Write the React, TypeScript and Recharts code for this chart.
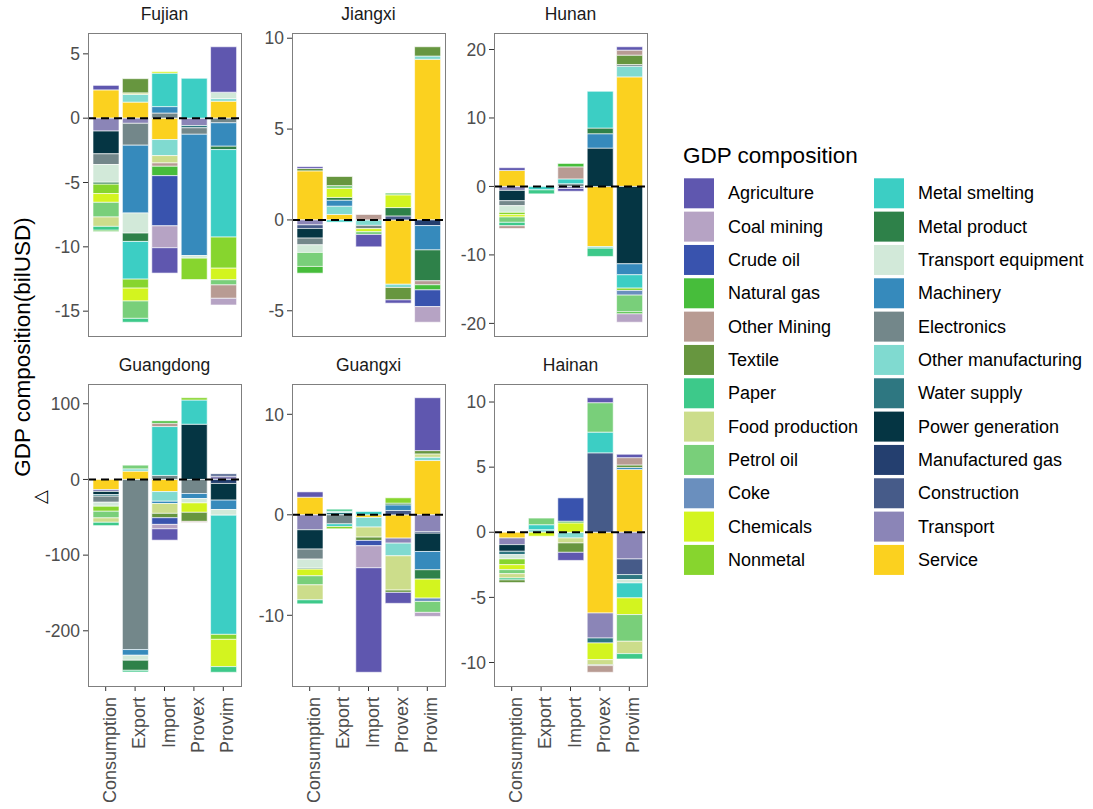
import React from "react";
import { BarChart, Bar, XAxis, YAxis, ReferenceLine } from "recharts";

const categories = ["Consumption", "Export", "Import", "Provex", "Provim"];

const sectors = [
  "Agriculture", "Coal mining", "Crude oil", "Natural gas", "Other Mining", "Textile",
  "Paper", "Food production", "Petrol oil", "Coke", "Chemicals", "Nonmetal",
  "Metal smelting", "Metal product", "Transport equipment", "Machinery", "Electronics",
  "Other manufacturing", "Water supply", "Power generation", "Manufactured gas",
  "Construction", "Transport", "Service",
];

const sectorColors = [
  "#5F57AF", "#B6A3C4", "#3953AE", "#47BD3B", "#B89B93", "#67963F",
  "#3DC98A", "#CCDD8B", "#79CF7A", "#6A8FBE", "#D3F41F", "#87D52E",
  "#3CCEC4", "#2E8149", "#D2E9D9", "#368ABC", "#73878A",
  "#80DAD0", "#2E7781", "#053543", "#243F6F",
  "#465B89", "#8B85B7", "#FBD11F",
];

// values per sector: [Consumption, Export, Import, Provex, Provim], bilUSD
const fujian: Record<string, number[]> = {
  Agriculture: [0.35, 0, -1.97, 0, 3.53],
  "Coal mining": [0, 0, -1.7, 0, -0.52],
  "Crude oil": [0, 0, -3.9, 0, 0],
  "Natural gas": [-0.1, 0, -0.73, 0, 0],
  "Other Mining": [0, 0, -0.26, 0, -1.04],
  Textile: [0, 1.1, 0, 0, 0],
  Paper: [-0.3, -0.3, 0, 0, 0],
  "Food production": [-0.73, 0.12, -0.57, 0, 0],
  "Petrol oil": [-1.14, -1.35, 0, 0, -0.4],
  Chemicals: [-0.68, -1.0, 0.12, 0, -0.9],
  Nonmetal: [-0.73, -0.7, 0, -1.66, -2.42],
  "Metal smelting": [0, -2.93, 2.6, 3.1, -6.8],
  "Metal product": [-0.15, -0.65, 0, 0, -0.26],
  "Transport equipment": [-1.38, -1.56, 0, -0.2, 0.5],
  Machinery: [0, -5.27, 0.5, -9.43, -1.82],
  Electronics: [-0.83, -1.7, 0.4, -0.5, -0.36],
  "Other manufacturing": [0, 0.6, -1.25, 0, 0.2],
  "Water supply": [0, 0, 0, -0.18, 0],
  "Power generation": [-1.77, 0, 0, 0, 0],
  Transport: [-1.0, -0.4, 0, -0.57, 0],
  Service: [2.2, 1.25, -1.66, 0, 1.32],
};

const jiangxi: Record<string, number[]> = {
  Agriculture: [0.1, 0, -0.68, -0.18, 0],
  "Coal mining": [0, 0, 0, 0, -0.86],
  "Crude oil": [0, 0, 0, 0, -0.92],
  "Natural gas": [-0.37, 0, 0, 0, -0.28],
  "Other Mining": [0, 0, 0.3, 0, -0.22],
  Textile: [0.13, 0.5, 0, -0.68, 0.51],
  "Petrol oil": [-0.77, 0.15, -0.15, 0.1, 0],
  Chemicals: [0, 0.5, -0.17, 0.7, 0],
  "Metal smelting": [0, -0.12, 0, 0, 0],
  "Metal product": [0, 0.15, 0, 0.46, -1.7],
  "Transport equipment": [-0.42, 0, 0, 0, 0],
  Machinery: [0, 0.33, 0, 0, -1.34],
  Electronics: [-0.37, 0, -0.18, 0, 0],
  "Other manufacturing": [0, 0.46, -0.3, -0.18, 0.18],
  "Power generation": [-0.53, 0, 0, 0, 0],
  "Manufactured gas": [0, 0, 0, 0, -0.31],
  Construction: [-0.2, 0, 0, 0.22, 0],
  Transport: [-0.27, 0, 0, 0, 0],
  Service: [2.7, 0.3, 0, -3.54, 8.84],
};

const hunan: Record<string, number[]> = {
  Agriculture: [0.4, 0, -0.4, 0, 0.49],
  "Coal mining": [0, 0, 0, 0, -1.22],
  "Natural gas": [0, 0, 0.5, 0, -0.3],
  "Other Mining": [-0.4, 0, 1.76, 0, 0.73],
  Textile: [0, 0, 0, 0, 1.37],
  Paper: [-0.5, -0.58, 0, -1.2, 0],
  "Petrol oil": [-0.78, 0, 0, 0, -2.44],
  Coke: [0, 0, 0, 0, -0.68],
  Chemicals: [-0.34, 0, 0, 0, 0],
  Nonmetal: [-0.34, 0, 0, 0, -0.34],
  "Metal smelting": [0, -0.5, 0.7, 5.37, -1.95],
  "Metal product": [0, 0, 0, 0.83, 0],
  "Transport equipment": [-0.97, 0, 0, 0, 0],
  Machinery: [0, 0, 0, 2.1, -1.6],
  Electronics: [-0.73, 0, 0.4, 0, 0.25],
  "Other manufacturing": [0, 0, 0, -0.24, 1.56],
  "Power generation": [-1.5, 0, 0, 5.6, -11.3],
  Transport: [-0.58, 0, -0.3, 0, 0],
  Service: [2.34, 0, 0, -8.78, 16.0],
};

const guangdong: Record<string, number[]> = {
  Agriculture: [0, 0, -15, 0, 0],
  "Coal mining": [0, 0, -5.8, 0, 0],
  "Crude oil": [0, 0, -8.8, 0, 0],
  "Natural gas": [0, 0, 3.1, 0, 0],
  "Other Mining": [0, 0, 4.4, -1.3, 0],
  Textile: [0, 0, -5.8, -12, 0],
  Paper: [-4.4, -2.2, 0, 0, -7.5],
  "Food production": [-5.8, 0, -13, 0, 0],
  "Petrol oil": [-8.8, 4.9, 0, 0, 0],
  Chemicals: [0, 0, 0, -12.4, -36],
  Nonmetal: [-6.6, 0, 0, 3, -6.6],
  "Metal smelting": [0, 0, 64.6, 32, -157.5],
  "Metal product": [0, -13.3, 0, 0, 0],
  "Transport equipment": [-5.3, -6.6, 0, -5.8, -7.5],
  Machinery: [0, -7.5, -3, -6.6, -12.4],
  Electronics: [-8, -224.8, 5.3, -18.6, 0],
  "Other manufacturing": [0, 3, -12.8, 0, 0],
  "Water supply": [-2.2, 0, 0, 0, 0],
  "Power generation": [-4, 0, 0, 73, -22],
  "Manufactured gas": [0, 0, 0, 0, -5.3],
  Construction: [0, 0, 0, 0, 3],
  Transport: [-2.6, 0, 0, 0, 4.4],
  Service: [-13.3, 11, -16, 0, 0],
};

const guangxi: Record<string, number[]> = {
  Agriculture: [0.53, 0, -10.4, -1.09, 5.26],
  "Coal mining": [0, 0, -2.19, 0, -0.4],
  "Crude oil": [0, 0, -0.53, 0, 0],
  Textile: [0, 0, -0.33, -0.23, 0.33],
  Paper: [-0.4, 0.2, 0, 0, 0],
  "Food production": [-1.49, 0, -1.0, -3.41, 0.33],
  "Petrol oil": [-0.9, 0, 0, 0, -1.09],
  Coke: [0, 0, 0, 0, -0.33],
  Chemicals: [-0.66, 0, 0, 0, -1.89],
  Nonmetal: [0, -0.23, 0, 0.53, 0],
  "Metal smelting": [0, -0.26, 0.33, 0, 0],
  "Metal product": [-0.1, 0, 0, 0.17, -0.93],
  "Transport equipment": [-0.9, 0, 0, 0, 0],
  Machinery: [0, 0, 0, 0.56, -1.82],
  Electronics: [-1.0, -0.9, 0, 0, 0],
  "Other manufacturing": [0, 0.13, -0.96, -1.26, 0.33],
  "Water supply": [0, 0.23, 0, 0, 0],
  "Power generation": [-1.92, 0, 0, 0, -1.82],
  Construction: [0, 0, 0, 0.43, -0.17],
  Transport: [-1.49, 0, 0, -0.5, -1.66],
  Service: [1.75, 0, -0.26, -2.32, 5.4],
};

const hainan: Record<string, number[]> = {
  Agriculture: [0, 0, -0.62, 0.38, 0.26],
  "Crude oil": [0, 0, 1.79, 0, 0],
  "Natural gas": [0, 0, 0.13, 0, 0],
  "Other Mining": [0, 0, 0, -0.51, 0.56],
  Textile: [-0.2, 0, -0.72, -0.08, 0.2],
  Paper: [-0.15, 0, 0, 0, -0.41],
  "Food production": [-0.33, 0, -0.38, -0.38, -0.95],
  "Petrol oil": [-0.31, 0.51, 0, 2.26, -2.05],
  Chemicals: [-0.38, -0.3, 0.72, -1.28, -1.28],
  Nonmetal: [-0.44, 0, 0, 0, 0],
  "Metal smelting": [0, 0.38, 0, 1.59, -1.15],
  "Transport equipment": [-0.33, 0, 0, 0, -0.26],
  Machinery: [0, 0, 0, 0, 0.15],
  "Other manufacturing": [0, 0.2, -0.44, 0, 0],
  "Water supply": [-0.26, 0, 0, -0.38, -0.38],
  "Power generation": [-0.51, 0, 0, 0, 0],
  Construction: [0, 0, 0, 6.1, -1.2],
  Transport: [-0.51, 0, 0, -1.92, -2.05],
  Service: [-0.44, 0, 0, -6.2, 4.82],
};

const fujianTicks = [5, 0, -5, -10, -15];
const jiangxiTicks = [10, 5, 0, -5];
const hunanTicks = [20, 10, 0, -10, -20];
const guangdongTicks = [100, 0, -100, -200];
const guangxiTicks = [10, 0, -10];
const hainanTicks = [10, 5, 0, -5, -10];

const FONT = "'Liberation Sans', Arial, sans-serif";
const PANEL_W = 153;
const Y_W = 60;
const X_H = 122;
const TOP_PAD = 12;

const panels = [
  { title: "Fujian", table: fujian, ticks: fujianTicks, x: 88, y: 33, h: 303, bottom: false },
  { title: "Jiangxi", table: jiangxi, ticks: jiangxiTicks, x: 292, y: 33, h: 303, bottom: false },
  { title: "Hunan", table: hunan, ticks: hunanTicks, x: 494, y: 33, h: 303, bottom: false },
  { title: "Guangdong", table: guangdong, ticks: guangdongTicks, x: 88, y: 384, h: 302, bottom: true },
  { title: "Guangxi", table: guangxi, ticks: guangxiTicks, x: 292, y: 384, h: 302, bottom: true },
  { title: "Hainan", table: hainan, ticks: hainanTicks, x: 494, y: 384, h: 302, bottom: true },
];

function toRows(table: Record<string, number[]>) {
  return categories.map((cat, i) => {
    const row: Record<string, number | string> = { cat };
    sectors.forEach((s) => {
      row[s] = table[s] ? table[s][i] : 0;
    });
    return row;
  });
}

// ggplot-like 5% expansion of the stacked range
function extent(table: Record<string, number[]>): [number, number] {
  let lo = 0;
  let hi = 0;
  categories.forEach((_, i) => {
    let p = 0;
    let n = 0;
    sectors.forEach((s) => {
      const v = table[s] ? table[s][i] : 0;
      if (v > 0) p += v;
      else n += v;
    });
    hi = Math.max(hi, p);
    lo = Math.min(lo, n);
  });
  const pad = (hi - lo) * 0.05;
  return [lo - pad, hi + pad];
}

const XTick = (props: any) => {
  const { x, y, payload } = props;
  return (
    <text
      x={x}
      y={y}
      dy={10}
      transform={`rotate(-90 ${x} ${y})`}
      textAnchor="end"
      fill="#4d4d4d"
      fontSize={18}
      fontFamily={FONT}
    >
      {payload.value}
    </text>
  );
};

const Panel = ({ p }: { p: (typeof panels)[number] }) => {
  const rows = toRows(p.table);
  const height = TOP_PAD + p.h + (p.bottom ? X_H : 0);
  return (
    <div style={{ position: "absolute", left: p.x - Y_W, top: p.y - TOP_PAD }}>
      <BarChart
        width={Y_W + PANEL_W}
        height={height}
        data={rows}
        stackOffset="sign"
        margin={{ top: TOP_PAD, right: 0, bottom: 0, left: 0 }}
      >
        <XAxis
          dataKey="cat"
          hide={!p.bottom}
          height={X_H}
          padding={{ left: 3, right: 3 }}
          axisLine={false}
          tickLine={{ stroke: "#333" }}
          tickSize={5}
          tickMargin={6}
          interval={0}
          tick={<XTick />}
        />
        <YAxis
          type="number"
          width={Y_W}
          domain={extent(p.table)}
          allowDataOverflow
          ticks={p.ticks}
          interval={0}
          axisLine={false}
          tickLine={{ stroke: "#333" }}
          tickSize={5}
          tickMargin={3}
          tick={{ fill: "#4d4d4d", fontSize: 17.5, fontFamily: FONT }}
        />
        {sectors
          .map((s, i) => ({ s, c: sectorColors[i] }))
          .reverse()
          .map(({ s, c }) => (
            <Bar
              key={s}
              dataKey={s}
              stackId="a"
              fill={c}
              stroke="#ffffff"
              strokeWidth={0.6}
              barSize={26}
              isAnimationActive={false}
            />
          ))}
        <ReferenceLine y={0} stroke="#000" strokeWidth={2} strokeDasharray="8 5" />
      </BarChart>
    </div>
  );
};

const App = () => {
  const col2 = sectors.slice(12);
  const col1 = sectors.slice(0, 12);
  return (
    <div
      style={{
        position: "absolute",
        left: 0,
        top: 0,
        width: 1093,
        height: 809,
        background: "#fff",
        fontFamily: FONT,
        overflow: "hidden",
      }}
    >
      {panels.map((p) => (
        <Panel key={p.title} p={p} />
      ))}
      <svg
        width={1093}
        height={809}
        style={{ position: "absolute", left: 0, top: 0, pointerEvents: "none" }}
      >
        {panels.map((p) => (
          <g key={p.title}>
            <rect x={p.x + 0.5} y={p.y + 0.5} width={PANEL_W} height={p.h} fill="none" stroke="#7f7f7f" strokeWidth={1} />
            <text x={p.x + PANEL_W / 2} y={p.y - 13} textAnchor="middle" fontSize={17.5} fill="#1a1a1a" fontFamily={FONT}>
              {p.title}
            </text>
          </g>
        ))}
        <text x={30} y={347} transform="rotate(-90 30 347)" textAnchor="middle" fontSize={22.5} fill="#000" fontFamily={FONT}>
          GDP composition(bilUSD)
        </text>
        <text x={46} y={497} transform="rotate(-90 46 497)" textAnchor="middle" fontSize={18} fill="#000" fontFamily="'DejaVu Sans', sans-serif">
          △
        </text>
        <text x={683} y={163} fontSize={22.5} fill="#000" fontFamily={FONT}>
          GDP composition
        </text>
        {[col1, col2].map((col, ci) =>
          col.map((s, i) => {
            const idx = ci * 12 + i;
            const kx = ci === 0 ? 684 : 874;
            const lx = ci === 0 ? 728 : 918;
            const ky = 178.3 + i * 33.33;
            return (
              <g key={s}>
                <rect x={kx} y={ky} width={30} height={30} fill={sectorColors[idx]} />
                <text x={lx} y={ky + 15} dominantBaseline="central" fontSize={18} fill="#000" fontFamily={FONT}>
                  {s}
                </text>
              </g>
            );
          })
        )}
      </svg>
    </div>
  );
};

export default App;
